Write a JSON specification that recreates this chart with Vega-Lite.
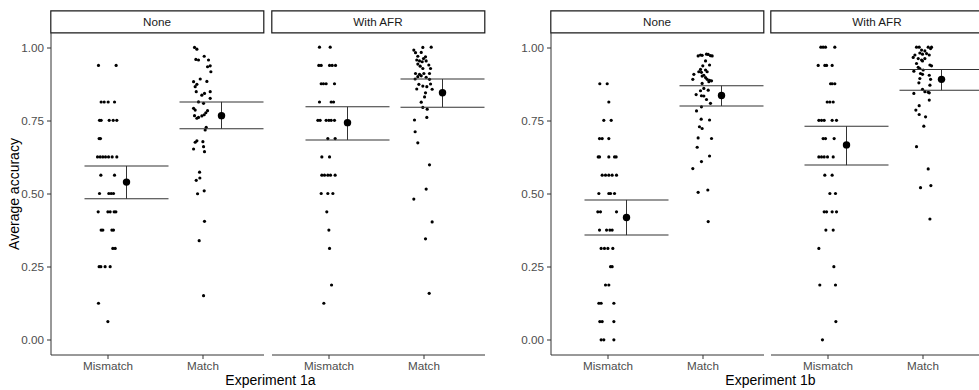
{
"$schema":"https://vega.github.io/schema/vega-lite/v6.json",
"padding":{"left":7.5,"top":9.5,"right":0,"bottom":0},
"background":"white",
"datasets":{
"sum":[
{"e":"1a","c":"None","x":1,"m":0.539,"lo":0.482,"hi":0.594},
{"e":"1a","c":"None","x":2,"m":0.766,"lo":0.721,"hi":0.813},
{"e":"1a","c":"With AFR","x":1,"m":0.742,"lo":0.683,"hi":0.796},
{"e":"1a","c":"With AFR","x":2,"m":0.844,"lo":0.795,"hi":0.891},
{"e":"1b","c":"None","x":1,"m":0.418,"lo":0.358,"hi":0.478},
{"e":"1b","c":"None","x":2,"m":0.835,"lo":0.799,"hi":0.868},
{"e":"1b","c":"With AFR","x":1,"m":0.666,"lo":0.597,"hi":0.730},
{"e":"1b","c":"With AFR","x":2,"m":0.890,"lo":0.853,"hi":0.924}
],
"pts":[
{"e":"1a","c":"None","x":0.905,"y":0.9375},{"e":"1a","c":"None","x":1.091,"y":0.9375},
{"e":"1a","c":"None","x":0.933,"y":0.8125},{"e":"1a","c":"None","x":0.965,"y":0.8125},{"e":"1a","c":"None","x":1.007,"y":0.8125},{"e":"1a","c":"None","x":1.074,"y":0.8125},
{"e":"1a","c":"None","x":0.916,"y":0.75},{"e":"1a","c":"None","x":0.933,"y":0.75},{"e":"1a","c":"None","x":1.018,"y":0.75},{"e":"1a","c":"None","x":1.060,"y":0.75},{"e":"1a","c":"None","x":1.098,"y":0.75},
{"e":"1a","c":"None","x":0.912,"y":0.6875},{"e":"1a","c":"None","x":0.926,"y":0.6875},
{"e":"1a","c":"None","x":0.895,"y":0.625},{"e":"1a","c":"None","x":0.923,"y":0.625},{"e":"1a","c":"None","x":0.951,"y":0.625},{"e":"1a","c":"None","x":0.979,"y":0.625},{"e":"1a","c":"None","x":1.011,"y":0.625},{"e":"1a","c":"None","x":1.049,"y":0.625},{"e":"1a","c":"None","x":1.098,"y":0.625},
{"e":"1a","c":"None","x":0.930,"y":0.5625},{"e":"1a","c":"None","x":1.074,"y":0.5625},
{"e":"1a","c":"None","x":0.916,"y":0.5},{"e":"1a","c":"None","x":1.014,"y":0.5},{"e":"1a","c":"None","x":1.039,"y":0.5},{"e":"1a","c":"None","x":1.063,"y":0.5},
{"e":"1a","c":"None","x":0.902,"y":0.4375},{"e":"1a","c":"None","x":1.004,"y":0.4375},{"e":"1a","c":"None","x":1.028,"y":0.4375},{"e":"1a","c":"None","x":1.070,"y":0.4375},{"e":"1a","c":"None","x":1.088,"y":0.4375},
{"e":"1a","c":"None","x":0.933,"y":0.375},{"e":"1a","c":"None","x":0.951,"y":0.375},{"e":"1a","c":"None","x":1.046,"y":0.375},{"e":"1a","c":"None","x":1.063,"y":0.375},
{"e":"1a","c":"None","x":1.056,"y":0.3125},{"e":"1a","c":"None","x":1.081,"y":0.3125},
{"e":"1a","c":"None","x":0.912,"y":0.25},{"e":"1a","c":"None","x":0.930,"y":0.25},{"e":"1a","c":"None","x":0.975,"y":0.25},{"e":"1a","c":"None","x":1.028,"y":0.25},
{"e":"1a","c":"None","x":0.905,"y":0.125},{"e":"1a","c":"None","x":1.004,"y":0.0625},
{"e":"1a","c":"None","x":1.916,"y":0.999},{"e":"1a","c":"None","x":1.941,"y":0.993},{"e":"1a","c":"None","x":2.018,"y":0.969},{"e":"1a","c":"None","x":1.930,"y":0.958},{"e":"1a","c":"None","x":1.958,"y":0.956},{"e":"1a","c":"None","x":2.063,"y":0.956},{"e":"1a","c":"None","x":2.081,"y":0.936},{"e":"1a","c":"None","x":2.053,"y":0.933},{"e":"1a","c":"None","x":2.088,"y":0.916},{"e":"1a","c":"None","x":1.976,"y":0.891},{"e":"1a","c":"None","x":1.906,"y":0.882},{"e":"1a","c":"None","x":2.046,"y":0.883},{"e":"1a","c":"None","x":1.941,"y":0.873},{"e":"1a","c":"None","x":1.923,"y":0.865},{"e":"1a","c":"None","x":2.081,"y":0.848},{"e":"1a","c":"None","x":2.021,"y":0.842},{"e":"1a","c":"None","x":1.993,"y":0.836},{"e":"1a","c":"None","x":1.934,"y":0.848},{"e":"1a","c":"None","x":2.081,"y":0.825},{"e":"1a","c":"None","x":1.958,"y":0.813},{"e":"1a","c":"None","x":2.011,"y":0.808},{"e":"1a","c":"None","x":1.906,"y":0.791},{"e":"1a","c":"None","x":1.923,"y":0.785},{"e":"1a","c":"None","x":2.053,"y":0.783},{"e":"1a","c":"None","x":2.035,"y":0.776},{"e":"1a","c":"None","x":2.018,"y":0.769},{"e":"1a","c":"None","x":1.993,"y":0.765},{"e":"1a","c":"None","x":1.958,"y":0.760},{"e":"1a","c":"None","x":1.916,"y":0.766},{"e":"1a","c":"None","x":1.941,"y":0.757},{"e":"1a","c":"None","x":2.039,"y":0.726},{"e":"1a","c":"None","x":2.028,"y":0.717},{"e":"1a","c":"None","x":1.941,"y":0.680},{"e":"1a","c":"None","x":1.923,"y":0.675},{"e":"1a","c":"None","x":2.004,"y":0.677},{"e":"1a","c":"None","x":2.011,"y":0.660},{"e":"1a","c":"None","x":1.906,"y":0.652},{"e":"1a","c":"None","x":2.021,"y":0.643},{"e":"1a","c":"None","x":1.969,"y":0.573},{"e":"1a","c":"None","x":1.934,"y":0.545},{"e":"1a","c":"None","x":1.972,"y":0.553},{"e":"1a","c":"None","x":1.948,"y":0.499},{"e":"1a","c":"None","x":2.018,"y":0.509},{"e":"1a","c":"None","x":2.021,"y":0.405},{"e":"1a","c":"None","x":1.965,"y":0.339},{"e":"1a","c":"None","x":2.011,"y":0.151},
{"e":"1a","c":"With AFR","x":0.905,"y":1},{"e":"1a","c":"With AFR","x":1.018,"y":1},
{"e":"1a","c":"With AFR","x":0.898,"y":0.9375},{"e":"1a","c":"With AFR","x":0.923,"y":0.9375},{"e":"1a","c":"With AFR","x":1.011,"y":0.9375},{"e":"1a","c":"With AFR","x":1.039,"y":0.9375},{"e":"1a","c":"With AFR","x":1.074,"y":0.9375},
{"e":"1a","c":"With AFR","x":0.923,"y":0.875},{"e":"1a","c":"With AFR","x":0.947,"y":0.875},{"e":"1a","c":"With AFR","x":0.975,"y":0.875},{"e":"1a","c":"With AFR","x":1.063,"y":0.875},
{"e":"1a","c":"With AFR","x":0.905,"y":0.8125},{"e":"1a","c":"With AFR","x":1.028,"y":0.8125},{"e":"1a","c":"With AFR","x":1.053,"y":0.8125},
{"e":"1a","c":"With AFR","x":0.888,"y":0.75},{"e":"1a","c":"With AFR","x":0.912,"y":0.75},{"e":"1a","c":"With AFR","x":0.975,"y":0.75},{"e":"1a","c":"With AFR","x":1.004,"y":0.75},{"e":"1a","c":"With AFR","x":1.028,"y":0.75},{"e":"1a","c":"With AFR","x":1.063,"y":0.75},
{"e":"1a","c":"With AFR","x":0.993,"y":0.6875},{"e":"1a","c":"With AFR","x":1.070,"y":0.6875},
{"e":"1a","c":"With AFR","x":0.930,"y":0.625},{"e":"1a","c":"With AFR","x":1.011,"y":0.625},
{"e":"1a","c":"With AFR","x":0.930,"y":0.5625},{"e":"1a","c":"With AFR","x":0.958,"y":0.5625},{"e":"1a","c":"With AFR","x":0.993,"y":0.5625},{"e":"1a","c":"With AFR","x":1.021,"y":0.5625},{"e":"1a","c":"With AFR","x":1.070,"y":0.5625},
{"e":"1a","c":"With AFR","x":0.923,"y":0.5},{"e":"1a","c":"With AFR","x":0.993,"y":0.5},{"e":"1a","c":"With AFR","x":1.046,"y":0.5},
{"e":"1a","c":"With AFR","x":0.982,"y":0.4375},{"e":"1a","c":"With AFR","x":1.004,"y":0.375},{"e":"1a","c":"With AFR","x":1.011,"y":0.3125},{"e":"1a","c":"With AFR","x":1.032,"y":0.1875},{"e":"1a","c":"With AFR","x":0.951,"y":0.125},
{"e":"1a","c":"With AFR","x":1.993,"y":0.999},{"e":"1a","c":"With AFR","x":2.081,"y":1.0},{"e":"1a","c":"With AFR","x":1.898,"y":0.990},{"e":"1a","c":"With AFR","x":1.916,"y":0.981},{"e":"1a","c":"With AFR","x":1.976,"y":0.982},{"e":"1a","c":"With AFR","x":1.940,"y":0.969},{"e":"1a","c":"With AFR","x":2.021,"y":0.967},{"e":"1a","c":"With AFR","x":2.000,"y":0.961},{"e":"1a","c":"With AFR","x":1.929,"y":0.956},{"e":"1a","c":"With AFR","x":1.958,"y":0.953},{"e":"1a","c":"With AFR","x":1.986,"y":0.950},{"e":"1a","c":"With AFR","x":2.028,"y":0.953},{"e":"1a","c":"With AFR","x":1.940,"y":0.942},{"e":"1a","c":"With AFR","x":1.965,"y":0.935},{"e":"1a","c":"With AFR","x":2.056,"y":0.939},{"e":"1a","c":"With AFR","x":1.993,"y":0.927},{"e":"1a","c":"With AFR","x":2.074,"y":0.927},{"e":"1a","c":"With AFR","x":1.916,"y":0.910},{"e":"1a","c":"With AFR","x":1.958,"y":0.907},{"e":"1a","c":"With AFR","x":2.004,"y":0.910},{"e":"1a","c":"With AFR","x":2.063,"y":0.910},{"e":"1a","c":"With AFR","x":1.940,"y":0.899},{"e":"1a","c":"With AFR","x":1.976,"y":0.902},{"e":"1a","c":"With AFR","x":1.912,"y":0.891},{"e":"1a","c":"With AFR","x":2.063,"y":0.890},{"e":"1a","c":"With AFR","x":2.028,"y":0.897},{"e":"1a","c":"With AFR","x":1.951,"y":0.873},{"e":"1a","c":"With AFR","x":1.993,"y":0.867},{"e":"1a","c":"With AFR","x":2.035,"y":0.865},{"e":"1a","c":"With AFR","x":2.074,"y":0.874},{"e":"1a","c":"With AFR","x":1.929,"y":0.857},{"e":"1a","c":"With AFR","x":2.091,"y":0.856},{"e":"1a","c":"With AFR","x":2.021,"y":0.844},{"e":"1a","c":"With AFR","x":2.011,"y":0.830},{"e":"1a","c":"With AFR","x":1.976,"y":0.812},{"e":"1a","c":"With AFR","x":1.993,"y":0.794},{"e":"1a","c":"With AFR","x":2.039,"y":0.788},{"e":"1a","c":"With AFR","x":2.035,"y":0.760},{"e":"1a","c":"With AFR","x":1.905,"y":0.751},{"e":"1a","c":"With AFR","x":1.912,"y":0.711},{"e":"1a","c":"With AFR","x":1.940,"y":0.673},{"e":"1a","c":"With AFR","x":2.063,"y":0.598},{"e":"1a","c":"With AFR","x":2.028,"y":0.515},{"e":"1a","c":"With AFR","x":1.898,"y":0.481},{"e":"1a","c":"With AFR","x":2.091,"y":0.403},{"e":"1a","c":"With AFR","x":2.021,"y":0.345},{"e":"1a","c":"With AFR","x":2.060,"y":0.159},
{"e":"1b","c":"None","x":0.919,"y":0.875},{"e":"1b","c":"None","x":0.997,"y":0.875},{"e":"1b","c":"None","x":1.014,"y":0.8125},
{"e":"1b","c":"None","x":0.961,"y":0.75},{"e":"1b","c":"None","x":1.039,"y":0.75},
{"e":"1b","c":"None","x":0.916,"y":0.6875},{"e":"1b","c":"None","x":0.944,"y":0.6875},{"e":"1b","c":"None","x":1.014,"y":0.6875},
{"e":"1b","c":"None","x":0.902,"y":0.625},{"e":"1b","c":"None","x":0.916,"y":0.625},{"e":"1b","c":"None","x":1.014,"y":0.625},{"e":"1b","c":"None","x":1.074,"y":0.625},{"e":"1b","c":"None","x":1.091,"y":0.625},
{"e":"1b","c":"None","x":0.944,"y":0.5625},{"e":"1b","c":"None","x":0.979,"y":0.5625},{"e":"1b","c":"None","x":1.014,"y":0.5625},{"e":"1b","c":"None","x":1.049,"y":0.5625},{"e":"1b","c":"None","x":1.095,"y":0.5625},
{"e":"1b","c":"None","x":0.909,"y":0.5},{"e":"1b","c":"None","x":1.014,"y":0.5},{"e":"1b","c":"None","x":1.032,"y":0.5},{"e":"1b","c":"None","x":1.074,"y":0.5},
{"e":"1b","c":"None","x":0.898,"y":0.4375},{"e":"1b","c":"None","x":0.926,"y":0.4375},{"e":"1b","c":"None","x":1.095,"y":0.4375},
{"e":"1b","c":"None","x":0.916,"y":0.375},{"e":"1b","c":"None","x":0.990,"y":0.375},{"e":"1b","c":"None","x":1.025,"y":0.375},{"e":"1b","c":"None","x":1.049,"y":0.375},
{"e":"1b","c":"None","x":0.933,"y":0.3125},{"e":"1b","c":"None","x":0.968,"y":0.3125},{"e":"1b","c":"None","x":1.004,"y":0.3125},{"e":"1b","c":"None","x":1.056,"y":0.3125},
{"e":"1b","c":"None","x":1.032,"y":0.25},{"e":"1b","c":"None","x":1.049,"y":0.25},
{"e":"1b","c":"None","x":0.979,"y":0.1875},{"e":"1b","c":"None","x":1.014,"y":0.1875},
{"e":"1b","c":"None","x":0.909,"y":0.125},{"e":"1b","c":"None","x":0.933,"y":0.125},{"e":"1b","c":"None","x":1.067,"y":0.125},
{"e":"1b","c":"None","x":0.919,"y":0.0625},{"e":"1b","c":"None","x":0.944,"y":0.0625},{"e":"1b","c":"None","x":1.067,"y":0.0625},
{"e":"1b","c":"None","x":0.933,"y":0},{"e":"1b","c":"None","x":0.961,"y":0},{"e":"1b","c":"None","x":1.067,"y":0},
{"e":"1b","c":"None","x":1.954,"y":0.970},{"e":"1b","c":"None","x":1.979,"y":0.973},{"e":"1b","c":"None","x":1.996,"y":0.972},{"e":"1b","c":"None","x":2.042,"y":0.976},{"e":"1b","c":"None","x":2.060,"y":0.975},{"e":"1b","c":"None","x":2.084,"y":0.971},{"e":"1b","c":"None","x":2.102,"y":0.970},{"e":"1b","c":"None","x":2.032,"y":0.953},{"e":"1b","c":"None","x":2.003,"y":0.936},{"e":"1b","c":"None","x":2.074,"y":0.939},{"e":"1b","c":"None","x":1.979,"y":0.924},{"e":"1b","c":"None","x":2.032,"y":0.922},{"e":"1b","c":"None","x":1.909,"y":0.907},{"e":"1b","c":"None","x":1.961,"y":0.916},{"e":"1b","c":"None","x":1.989,"y":0.914},{"e":"1b","c":"None","x":2.049,"y":0.916},{"e":"1b","c":"None","x":1.898,"y":0.890},{"e":"1b","c":"None","x":1.996,"y":0.901},{"e":"1b","c":"None","x":2.014,"y":0.904},{"e":"1b","c":"None","x":2.032,"y":0.896},{"e":"1b","c":"None","x":2.074,"y":0.887},{"e":"1b","c":"None","x":2.049,"y":0.890},{"e":"1b","c":"None","x":2.095,"y":0.885},{"e":"1b","c":"None","x":2.067,"y":0.882},{"e":"1b","c":"None","x":1.996,"y":0.876},{"e":"1b","c":"None","x":2.014,"y":0.859},{"e":"1b","c":"None","x":2.060,"y":0.853},{"e":"1b","c":"None","x":1.979,"y":0.851},{"e":"1b","c":"None","x":1.933,"y":0.838},{"e":"1b","c":"None","x":1.989,"y":0.834},{"e":"1b","c":"None","x":2.014,"y":0.833},{"e":"1b","c":"None","x":2.042,"y":0.821},{"e":"1b","c":"None","x":2.084,"y":0.808},{"e":"1b","c":"None","x":1.989,"y":0.796},{"e":"1b","c":"None","x":1.937,"y":0.782},{"e":"1b","c":"None","x":1.986,"y":0.754},{"e":"1b","c":"None","x":2.074,"y":0.751},{"e":"1b","c":"None","x":1.968,"y":0.728},{"e":"1b","c":"None","x":1.996,"y":0.722},{"e":"1b","c":"None","x":1.954,"y":0.690},{"e":"1b","c":"None","x":2.095,"y":0.688},{"e":"1b","c":"None","x":1.944,"y":0.658},{"e":"1b","c":"None","x":2.074,"y":0.628},{"e":"1b","c":"None","x":1.989,"y":0.609},{"e":"1b","c":"None","x":1.898,"y":0.585},{"e":"1b","c":"None","x":1.954,"y":0.504},{"e":"1b","c":"None","x":2.056,"y":0.512},{"e":"1b","c":"None","x":2.060,"y":0.404},
{"e":"1b","c":"With AFR","x":0.930,"y":1},{"e":"1b","c":"With AFR","x":0.954,"y":1},{"e":"1b","c":"With AFR","x":0.979,"y":1},{"e":"1b","c":"With AFR","x":1.077,"y":1},
{"e":"1b","c":"With AFR","x":0.902,"y":0.9375},{"e":"1b","c":"With AFR","x":0.972,"y":0.9375},{"e":"1b","c":"With AFR","x":0.990,"y":0.9375},{"e":"1b","c":"With AFR","x":1.049,"y":0.9375},
{"e":"1b","c":"With AFR","x":1.032,"y":0.875},{"e":"1b","c":"With AFR","x":1.049,"y":0.875},{"e":"1b","c":"With AFR","x":1.077,"y":0.875},
{"e":"1b","c":"With AFR","x":0.997,"y":0.8125},{"e":"1b","c":"With AFR","x":1.025,"y":0.8125},{"e":"1b","c":"With AFR","x":1.060,"y":0.8125},
{"e":"1b","c":"With AFR","x":0.909,"y":0.75},{"e":"1b","c":"With AFR","x":0.937,"y":0.75},{"e":"1b","c":"With AFR","x":0.965,"y":0.75},{"e":"1b","c":"With AFR","x":1.049,"y":0.75},{"e":"1b","c":"With AFR","x":1.095,"y":0.75},
{"e":"1b","c":"With AFR","x":0.954,"y":0.6875},{"e":"1b","c":"With AFR","x":0.979,"y":0.6875},{"e":"1b","c":"With AFR","x":1.070,"y":0.6875},
{"e":"1b","c":"With AFR","x":0.909,"y":0.625},{"e":"1b","c":"With AFR","x":0.937,"y":0.625},{"e":"1b","c":"With AFR","x":0.965,"y":0.625},{"e":"1b","c":"With AFR","x":1.000,"y":0.625},{"e":"1b","c":"With AFR","x":1.060,"y":0.625},
{"e":"1b","c":"With AFR","x":0.972,"y":0.5625},{"e":"1b","c":"With AFR","x":1.049,"y":0.5625},
{"e":"1b","c":"With AFR","x":1.025,"y":0.5},{"e":"1b","c":"With AFR","x":1.084,"y":0.5},
{"e":"1b","c":"With AFR","x":0.965,"y":0.4375},{"e":"1b","c":"With AFR","x":0.990,"y":0.4375},{"e":"1b","c":"With AFR","x":1.049,"y":0.4375},{"e":"1b","c":"With AFR","x":1.095,"y":0.4375},
{"e":"1b","c":"With AFR","x":0.983,"y":0.375},{"e":"1b","c":"With AFR","x":1.060,"y":0.375},
{"e":"1b","c":"With AFR","x":0.909,"y":0.3125},{"e":"1b","c":"With AFR","x":1.067,"y":0.25},
{"e":"1b","c":"With AFR","x":0.919,"y":0.1875},{"e":"1b","c":"With AFR","x":1.084,"y":0.1875},
{"e":"1b","c":"With AFR","x":1.088,"y":0.0625},{"e":"1b","c":"With AFR","x":0.947,"y":0},
{"e":"1b","c":"With AFR","x":1.937,"y":1.0},{"e":"1b","c":"With AFR","x":1.965,"y":1.0},{"e":"1b","c":"With AFR","x":2.060,"y":1.0},{"e":"1b","c":"With AFR","x":2.095,"y":1.0},{"e":"1b","c":"With AFR","x":2.085,"y":0.995},{"e":"1b","c":"With AFR","x":1.920,"y":0.973},{"e":"1b","c":"With AFR","x":1.990,"y":0.990},{"e":"1b","c":"With AFR","x":2.025,"y":0.987},{"e":"1b","c":"With AFR","x":1.972,"y":0.980},{"e":"1b","c":"With AFR","x":2.000,"y":0.976},{"e":"1b","c":"With AFR","x":2.043,"y":0.978},{"e":"1b","c":"With AFR","x":2.071,"y":0.973},{"e":"1b","c":"With AFR","x":1.902,"y":0.965},{"e":"1b","c":"With AFR","x":1.955,"y":0.961},{"e":"1b","c":"With AFR","x":1.990,"y":0.956},{"e":"1b","c":"With AFR","x":2.025,"y":0.961},{"e":"1b","c":"With AFR","x":1.937,"y":0.944},{"e":"1b","c":"With AFR","x":2.000,"y":0.953},{"e":"1b","c":"With AFR","x":2.078,"y":0.939},{"e":"1b","c":"With AFR","x":2.095,"y":0.936},{"e":"1b","c":"With AFR","x":1.955,"y":0.931},{"e":"1b","c":"With AFR","x":1.972,"y":0.927},{"e":"1b","c":"With AFR","x":2.007,"y":0.922},{"e":"1b","c":"With AFR","x":1.909,"y":0.918},{"e":"1b","c":"With AFR","x":1.979,"y":0.910},{"e":"1b","c":"With AFR","x":2.000,"y":0.907},{"e":"1b","c":"With AFR","x":2.071,"y":0.904},{"e":"1b","c":"With AFR","x":1.972,"y":0.893},{"e":"1b","c":"With AFR","x":2.085,"y":0.890},{"e":"1b","c":"With AFR","x":1.962,"y":0.878},{"e":"1b","c":"With AFR","x":2.078,"y":0.870},{"e":"1b","c":"With AFR","x":1.909,"y":0.842},{"e":"1b","c":"With AFR","x":2.000,"y":0.856},{"e":"1b","c":"With AFR","x":2.025,"y":0.848},{"e":"1b","c":"With AFR","x":2.060,"y":0.846},{"e":"1b","c":"With AFR","x":2.071,"y":0.844},{"e":"1b","c":"With AFR","x":2.071,"y":0.819},{"e":"1b","c":"With AFR","x":1.965,"y":0.800},{"e":"1b","c":"With AFR","x":1.930,"y":0.785},{"e":"1b","c":"With AFR","x":1.965,"y":0.770},{"e":"1b","c":"With AFR","x":2.032,"y":0.762},{"e":"1b","c":"With AFR","x":2.014,"y":0.730},{"e":"1b","c":"With AFR","x":1.937,"y":0.660},{"e":"1b","c":"With AFR","x":2.060,"y":0.584},{"e":"1b","c":"With AFR","x":1.979,"y":0.520},{"e":"1b","c":"With AFR","x":2.088,"y":0.527},{"e":"1b","c":"With AFR","x":2.078,"y":0.413}
]
},
"spacing":35,
"hconcat":[
{"title":{"text":"Experiment 1a","orient":"bottom","anchor":"middle","frame":"group","offset":2,"dx":220},
 "spacing":6,
 "hconcat":[
  {"bounds":"flush","spacing":0,"vconcat":[
   {"width":213,"height":22,"data":{"values":[{"c":"None"}]},"view":{"stroke":"#1a1a1a","strokeWidth":1.2,"fill":"white"},"mark":{"type":"text","fontSize":11.7,"color":"#1a1a1a"},"encoding":{"text":{"field":"c"}}},
   {"width":213,"height":322,"layer":[
    {"data":{"name":"pts"},"transform":[{"filter":"datum.e=='1a'&&datum.c=='None'"}],"mark":{"type":"circle","size":10,"color":"black","opacity":1},
     "encoding":{"x":{"field":"x","type":"quantitative","title":null,"scale":{"domain":[0.4,2.642],"nice":false,"zero":false},"axis":{"values":[1,2],"labelExpr":"datum.value==1?'Mismatch':'Match'"}},
                 "y":{"field":"y","type":"quantitative","title":"Average accuracy","scale":{"domain":[-0.05,1.05],"nice":false,"zero":false},"axis":{"values":[0,0.25,0.5,0.75,1],"format":".2f"}}}},
    {"data":{"name":"sum"},"transform":[{"filter":"datum.e=='1a'&&datum.c=='None'"}],"mark":{"type":"tick","orient":"horizontal","size":84,"thickness":1,"xOffset":19,"color":"#333333","opacity":1},
     "encoding":{"x":{"field":"x","type":"quantitative","title":null},"y":{"field":"lo","type":"quantitative","title":"Average accuracy"}}},
    {"data":{"name":"sum"},"transform":[{"filter":"datum.e=='1a'&&datum.c=='None'"}],"mark":{"type":"tick","orient":"horizontal","size":84,"thickness":1,"xOffset":19,"color":"#333333","opacity":1},
     "encoding":{"x":{"field":"x","type":"quantitative","title":null},"y":{"field":"hi","type":"quantitative","title":"Average accuracy"}}},
    {"data":{"name":"sum"},"transform":[{"filter":"datum.e=='1a'&&datum.c=='None'"}],"mark":{"type":"rule","xOffset":19,"color":"#333333","strokeWidth":1},
     "encoding":{"x":{"field":"x","type":"quantitative","title":null},"y":{"field":"lo","type":"quantitative","title":"Average accuracy"},"y2":{"field":"hi"}}},
    {"data":{"name":"sum"},"transform":[{"filter":"datum.e=='1a'&&datum.c=='None'"}],"mark":{"type":"circle","size":55,"xOffset":19,"color":"black","opacity":1},
     "encoding":{"x":{"field":"x","type":"quantitative","title":null},"y":{"field":"m","type":"quantitative","title":"Average accuracy"}}}
   ]}
  ]},
  {"bounds":"flush","spacing":0,"vconcat":[
   {"width":213,"height":22,"data":{"values":[{"c":"With AFR"}]},"view":{"stroke":"#1a1a1a","strokeWidth":1.2,"fill":"white"},"mark":{"type":"text","fontSize":11.7,"color":"#1a1a1a"},"encoding":{"text":{"field":"c"}}},
   {"width":213,"height":322,"layer":[
    {"data":{"name":"pts"},"transform":[{"filter":"datum.e=='1a'&&datum.c=='With AFR'"}],"mark":{"type":"circle","size":10,"color":"black","opacity":1},
     "encoding":{"x":{"field":"x","type":"quantitative","title":null,"scale":{"domain":[0.4,2.642],"nice":false,"zero":false},"axis":{"values":[1,2],"labelExpr":"datum.value==1?'Mismatch':'Match'"}},
                 "y":{"field":"y","type":"quantitative","title":null,"scale":{"domain":[-0.05,1.05],"nice":false,"zero":false},"axis":null}}},
    {"data":{"name":"sum"},"transform":[{"filter":"datum.e=='1a'&&datum.c=='With AFR'"}],"mark":{"type":"tick","orient":"horizontal","size":84,"thickness":1,"xOffset":19,"color":"#333333","opacity":1},
     "encoding":{"x":{"field":"x","type":"quantitative","title":null},"y":{"field":"lo","type":"quantitative","title":null,"axis":null}}},
    {"data":{"name":"sum"},"transform":[{"filter":"datum.e=='1a'&&datum.c=='With AFR'"}],"mark":{"type":"tick","orient":"horizontal","size":84,"thickness":1,"xOffset":19,"color":"#333333","opacity":1},
     "encoding":{"x":{"field":"x","type":"quantitative","title":null},"y":{"field":"hi","type":"quantitative","title":null,"axis":null}}},
    {"data":{"name":"sum"},"transform":[{"filter":"datum.e=='1a'&&datum.c=='With AFR'"}],"mark":{"type":"rule","xOffset":19,"color":"#333333","strokeWidth":1},
     "encoding":{"x":{"field":"x","type":"quantitative","title":null},"y":{"field":"lo","type":"quantitative","title":null,"axis":null},"y2":{"field":"hi"}}},
    {"data":{"name":"sum"},"transform":[{"filter":"datum.e=='1a'&&datum.c=='With AFR'"}],"mark":{"type":"circle","size":55,"xOffset":19,"color":"black","opacity":1},
     "encoding":{"x":{"field":"x","type":"quantitative","title":null},"y":{"field":"m","type":"quantitative","title":null,"axis":null}}}
   ]}
  ]}
 ]},
{"title":{"text":"Experiment 1b","orient":"bottom","anchor":"middle","frame":"group","offset":2,"dx":220},
 "spacing":5,
 "hconcat":[
  {"bounds":"flush","spacing":0,"vconcat":[
   {"width":213,"height":22,"data":{"values":[{"c":"None"}]},"view":{"stroke":"#1a1a1a","strokeWidth":1.2,"fill":"white"},"mark":{"type":"text","fontSize":11.7,"color":"#1a1a1a"},"encoding":{"text":{"field":"c"}}},
   {"width":213,"height":322,"layer":[
    {"data":{"name":"pts"},"transform":[{"filter":"datum.e=='1b'&&datum.c=='None'"}],"mark":{"type":"circle","size":10,"color":"black","opacity":1},
     "encoding":{"x":{"field":"x","type":"quantitative","title":null,"scale":{"domain":[0.4,2.642],"nice":false,"zero":false},"axis":{"values":[1,2],"labelExpr":"datum.value==1?'Mismatch':'Match'"}},
                 "y":{"field":"y","type":"quantitative","title":null,"scale":{"domain":[-0.05,1.05],"nice":false,"zero":false},"axis":{"values":[0,0.25,0.5,0.75,1],"format":".2f"}}}},
    {"data":{"name":"sum"},"transform":[{"filter":"datum.e=='1b'&&datum.c=='None'"}],"mark":{"type":"tick","orient":"horizontal","size":84,"thickness":1,"xOffset":19,"color":"#333333","opacity":1},
     "encoding":{"x":{"field":"x","type":"quantitative","title":null},"y":{"field":"lo","type":"quantitative","title":null}}},
    {"data":{"name":"sum"},"transform":[{"filter":"datum.e=='1b'&&datum.c=='None'"}],"mark":{"type":"tick","orient":"horizontal","size":84,"thickness":1,"xOffset":19,"color":"#333333","opacity":1},
     "encoding":{"x":{"field":"x","type":"quantitative","title":null},"y":{"field":"hi","type":"quantitative","title":null}}},
    {"data":{"name":"sum"},"transform":[{"filter":"datum.e=='1b'&&datum.c=='None'"}],"mark":{"type":"rule","xOffset":19,"color":"#333333","strokeWidth":1},
     "encoding":{"x":{"field":"x","type":"quantitative","title":null},"y":{"field":"lo","type":"quantitative","title":null},"y2":{"field":"hi"}}},
    {"data":{"name":"sum"},"transform":[{"filter":"datum.e=='1b'&&datum.c=='None'"}],"mark":{"type":"circle","size":55,"xOffset":19,"color":"black","opacity":1},
     "encoding":{"x":{"field":"x","type":"quantitative","title":null},"y":{"field":"m","type":"quantitative","title":null}}}
   ]}
  ]},
  {"bounds":"flush","spacing":0,"vconcat":[
   {"width":213,"height":22,"data":{"values":[{"c":"With AFR"}]},"view":{"stroke":"#1a1a1a","strokeWidth":1.2,"fill":"white"},"mark":{"type":"text","fontSize":11.7,"color":"#1a1a1a"},"encoding":{"text":{"field":"c"}}},
   {"width":213,"height":322,"layer":[
    {"data":{"name":"pts"},"transform":[{"filter":"datum.e=='1b'&&datum.c=='With AFR'"}],"mark":{"type":"circle","size":10,"color":"black","opacity":1},
     "encoding":{"x":{"field":"x","type":"quantitative","title":null,"scale":{"domain":[0.4,2.642],"nice":false,"zero":false},"axis":{"values":[1,2],"labelExpr":"datum.value==1?'Mismatch':'Match'"}},
                 "y":{"field":"y","type":"quantitative","title":null,"scale":{"domain":[-0.05,1.05],"nice":false,"zero":false},"axis":null}}},
    {"data":{"name":"sum"},"transform":[{"filter":"datum.e=='1b'&&datum.c=='With AFR'"}],"mark":{"type":"tick","orient":"horizontal","size":84,"thickness":1,"xOffset":19,"color":"#333333","opacity":1},
     "encoding":{"x":{"field":"x","type":"quantitative","title":null},"y":{"field":"lo","type":"quantitative","title":null,"axis":null}}},
    {"data":{"name":"sum"},"transform":[{"filter":"datum.e=='1b'&&datum.c=='With AFR'"}],"mark":{"type":"tick","orient":"horizontal","size":84,"thickness":1,"xOffset":19,"color":"#333333","opacity":1},
     "encoding":{"x":{"field":"x","type":"quantitative","title":null},"y":{"field":"hi","type":"quantitative","title":null,"axis":null}}},
    {"data":{"name":"sum"},"transform":[{"filter":"datum.e=='1b'&&datum.c=='With AFR'"}],"mark":{"type":"rule","xOffset":19,"color":"#333333","strokeWidth":1},
     "encoding":{"x":{"field":"x","type":"quantitative","title":null},"y":{"field":"lo","type":"quantitative","title":null,"axis":null},"y2":{"field":"hi"}}},
    {"data":{"name":"sum"},"transform":[{"filter":"datum.e=='1b'&&datum.c=='With AFR'"}],"mark":{"type":"circle","size":55,"xOffset":19,"color":"black","opacity":1},
     "encoding":{"x":{"field":"x","type":"quantitative","title":null},"y":{"field":"m","type":"quantitative","title":null,"axis":null}}}
   ]}
  ]}
 ]}
],
"config":{
 "font":"Liberation Sans",
 "view":{"stroke":null},
 "axis":{"grid":false,"domainColor":"#333333","domainWidth":1,"tickColor":"#333333","tickSize":4,"tickWidth":1,"labelColor":"#4d4d4d","labelFontSize":11.7,"labelFont":"Liberation Sans","titleFont":"Liberation Sans","titleFontSize":14,"titleFontWeight":"normal","titleColor":"black","labelPadding":2,"labelFlush":false,"labelOverlap":false,"labelBound":false},
 "axisY":{"titlePadding":-1,"labelPadding":3},
 "title":{"font":"Liberation Sans","fontSize":14,"fontWeight":"normal","color":"black"}
}
}
